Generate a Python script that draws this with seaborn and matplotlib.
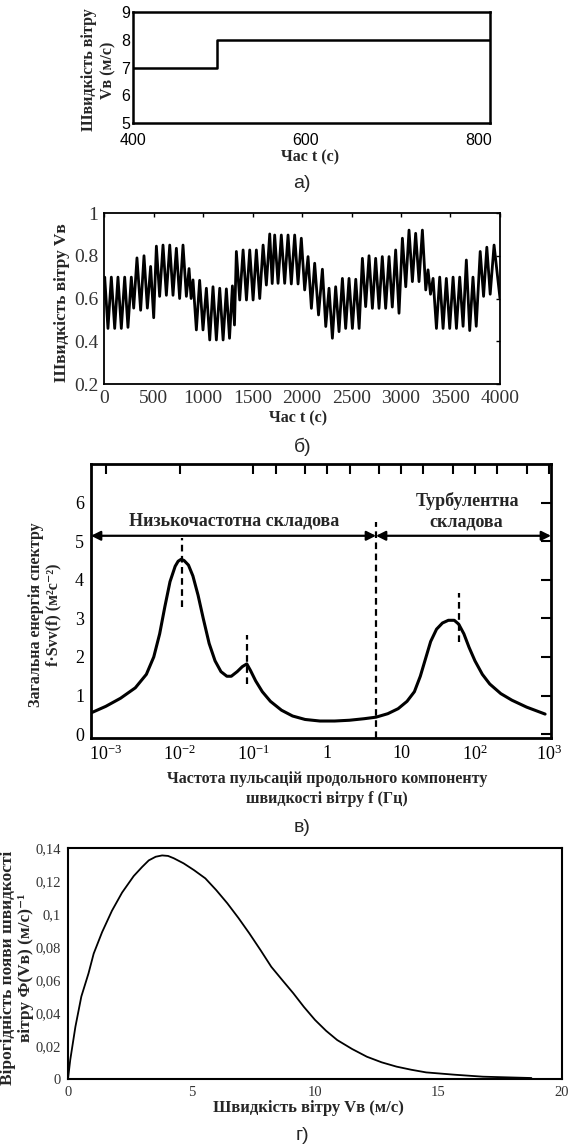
import numpy as np
import matplotlib
matplotlib.use("Agg")
import matplotlib.pyplot as plt
from matplotlib.ticker import NullFormatter
import seaborn as sns

sns.set_style("white")
plt.rcParams['font.family'] = ['Liberation Serif', 'DejaVu Serif']
plt.rcParams['mathtext.fontset'] = 'custom'
plt.rcParams['mathtext.rm'] = 'Liberation Serif'
plt.rcParams['mathtext.it'] = 'Liberation Serif:italic'
plt.rcParams['mathtext.bf'] = 'Liberation Serif:bold'

# а) ступінчаста зміна швидкості вітру
a_time = [400, 497, 813]
a_speed = [7, 8, 8]
a_xticks = [400, 600, 800]
a_yticks = [5, 6, 7, 8, 9]

# б) пульсації швидкості вітру (точки зламу)
b_time = [0, 7, 40, 74, 108, 141, 175, 209, 242, 276,
          300, 333, 370, 404, 438, 471, 502, 529, 562, 596,
          630, 664, 697, 731, 764, 798, 832, 859, 880, 899,
          933, 966, 1000, 1034, 1068, 1101, 1135, 1169, 1203, 1236,
          1268, 1297, 1318, 1337, 1371, 1405, 1439, 1472, 1506, 1539,
          1573, 1607, 1640, 1674, 1699, 1724, 1758, 1791, 1825, 1859,
          1892, 1926, 1960, 1993, 2027, 2061, 2095, 2128, 2167, 2206,
          2240, 2273, 2307, 2340, 2374, 2408, 2441, 2475, 2509, 2543,
          2577, 2610, 2643, 2677, 2711, 2744, 2778, 2811, 2845, 2879,
          2912, 2946, 2980, 3014, 3048, 3081, 3115, 3148, 3182, 3216,
          3250, 3273, 3298, 3324, 3358, 3391, 3425, 3458, 3492, 3526,
          3560, 3593, 3627, 3660, 3694, 3727, 3760, 3800, 3834, 3867,
          3901, 3940, 4000]
b_speed = [.60, .70, .46, .70, .46, .70, .46, .70, .465, .70,
           .555, .79, .545, .80, .555, .75, .51, .845, .61, .85,
           .615, .85, .615, .835, .60, .85, .61, .74, .60, .687,
           .453, .685, .453, .648, .406, .655, .406, .648, .406, .645,
           .414, .659, .476, .82, .593, .827, .593, .827, .593, .827,
           .60, .85, .663, .902, .67, .897, .671, .897, .671, .897,
           .668, .897, .668, .882, .64, .796, .554, .765, .523, .737,
           .469, .648, .414, .655, .445, .694, .46, .694, .46, .69,
           .46, .788, .562, .80, .554, .788, .554, .796, .554, .796,
           .56, .827, .531, .882, .655, .92, .679, .905, .679, .92,
           .64, .734, .62, .694, .46, .70, .46, .694, .46, .70,
           .46, .70, .47, .78, .45, .70, .47, .82, .61, .84,
           .62, .85, .60]
b_xticks = [0, 500, 1000, 1500, 2000, 2500, 3000, 3500, 4000]
b_yticks = [0.2, 0.4, 0.6, 0.8, 1.0]
b_ylabels = ['0.2', '0.4', '0.6', '0.8', '1']

# в) спектр енергії
c_log_f = [-3.2, -3.0, -2.8, -2.6, -2.45, -2.35, -2.27, -2.2, -2.13, -2.06,
           -2.02, -1.98, -1.94, -1.88, -1.82, -1.75, -1.68, -1.6, -1.52, -1.44,
           -1.36, -1.3, -1.22, -1.15, -1.09, -1.04, -0.97, -0.88, -0.77, -0.62,
           -0.47, -0.3, -0.1, 0.1, 0.3, 0.5, 0.66, 0.82, 0.96, 1.08,
           1.18, 1.26, 1.33, 1.4, 1.48, 1.56, 1.64, 1.72, 1.78, 1.85,
           1.92, 2.0, 2.1, 2.2, 2.35, 2.5, 2.7, 2.95]
c_energy = [0.55, 0.72, 0.93, 1.2, 1.55, 2.0, 2.6, 3.3, 3.95, 4.35,
            4.48, 4.53, 4.5, 4.38, 4.1, 3.6, 3.0, 2.35, 1.9, 1.62,
            1.5, 1.5, 1.62, 1.75, 1.82, 1.65, 1.38, 1.1, 0.85, 0.62,
            0.47, 0.38, 0.34, 0.34, 0.36, 0.4, 0.44, 0.53, 0.66, 0.85,
            1.1, 1.5, 1.95, 2.4, 2.72, 2.88, 2.95, 2.95, 2.85, 2.6,
            2.25, 1.9, 1.55, 1.3, 1.05, 0.88, 0.7, 0.52]
c_mark_logf = [-1.97, -1.09, 0.66, 1.79]
c_mark_lo = [3.3, 1.3, -0.1, 2.39]
c_mark_hi = [5.07, 2.56, 5.5, 3.65]
c_split_logf = 0.66
c_arrow_y = 5.14
c_xticks = [1e-3, 1e-2, 1e-1, 1, 10, 1e2, 1e3]
c_xlabels = ['$10^{-3}$', '$10^{-2}$', '$10^{-1}$', '1', '10', '$10^{2}$', '$10^{3}$']
c_xminor = [0.2, 0.5, 2, 5, 20, 50, 200, 500]
c_yticks = [0, 1, 2, 3, 4, 5, 6]

# г) розподіл швидкості вітру
d_speed = [0, 0.09, 0.30, 0.54, 0.83, 1.04, 1.38, 1.78, 2.19, 2.66,
           3.0, 3.27, 3.55, 3.81, 4.05, 4.28, 4.68, 5.1, 5.56, 6.0,
           6.45, 6.9, 7.34, 7.8, 8.23, 8.7, 9.12, 9.55, 10.0, 10.45,
           10.9, 11.5, 12.1, 12.7, 13.3, 13.9, 14.5, 15.65, 16.8, 18.76]
d_prob = [0, 0.0115, 0.0317, 0.050, 0.064, 0.076, 0.089, 0.102, 0.113, 0.123,
          0.1285, 0.1325, 0.1347, 0.1355, 0.1352, 0.1338, 0.1307, 0.1266, 0.1216, 0.1145,
          0.1065, 0.0976, 0.0883, 0.0780, 0.0680, 0.0595, 0.0520, 0.0437, 0.0358, 0.0292,
          0.0236, 0.0182, 0.0135, 0.0101, 0.0075, 0.0056, 0.0040, 0.0026, 0.0014, 0.0006]
d_xticks = [0, 5, 10, 15, 20]
d_yticks = [0, 0.02, 0.04, 0.06, 0.08, 0.10, 0.12, 0.14]
d_ylabels = ['0', '0,02', '0,04', '0,06', '0,08', '0,1', '0,12', '0,14']

W, H = 573, 1147
fig = plt.figure(figsize=(W / 100, H / 100), dpi=100)


def box(l, r, t, b):
    return [l / W, 1 - b / H, (r - l) / W, (b - t) / H]


def put(x, y, s, **kw):
    kw.setdefault('ha', 'center')
    kw.setdefault('va', 'center')
    fig.text(x / W, 1 - y / H, s, **kw)


def frame(ax, lw):
    for sp in ax.spines.values():
        sp.set_visible(True)
        sp.set_color('black')
        sp.set_linewidth(lw)


sans = ['Liberation Sans', 'DejaVu Sans']

# ---- а)
ax_a = fig.add_axes(box(133, 490, 12, 123))
sns.lineplot(x=a_time, y=a_speed, ax=ax_a, color='black', lw=1.8,
             drawstyle='steps-post', estimator=None)
ax_a.set_xlim(400, 813)
ax_a.set_ylim(5, 9)
ax_a.set_xticks(a_xticks, [str(v) for v in a_xticks], fontfamily=sans)
ax_a.set_yticks(a_yticks, [str(v) for v in a_yticks], fontfamily=sans)
ax_a.tick_params(direction='in', length=7, width=1.5, labelsize=11.5,
                 colors='black')
ax_a.tick_params(axis='x', pad=7)
ax_a.tick_params(axis='y', pad=2)
frame(ax_a, 1.8)
put(99, 70, 'Швидкість вітру\nVв (м/с)', rotation=90, fontsize=11.5,
    fontweight='bold', linespacing=1.3)
put(310, 157, 'Час t (с)', fontsize=11.5, fontweight='bold')
put(302, 183, 'а)', fontsize=14, family=sans)

# ---- б)
ax_b = fig.add_axes(box(104, 500, 213, 384))
sns.lineplot(x=b_time, y=b_speed, ax=ax_b, color='black', lw=2.0,
             estimator=None)
ax_b.set_xlim(0, 4000)
ax_b.set_ylim(0.2, 1.0)
ax_b.set_xticks(b_xticks, [str(v) for v in b_xticks])
ax_b.set_yticks(b_yticks, b_ylabels)
ax_b.tick_params(direction='in', length=3, width=1, labelsize=14, pad=4,
                 top=True, right=True, colors='black', labelcolor='#333333')
frame(ax_b, 1.3)
put(62, 303, 'Швидкість вітру Vв', rotation=90, fontsize=12.5,
    fontweight='bold')
put(298, 418, 'Час t (с)', fontsize=11.5, fontweight='bold')
put(303, 447, 'б)', fontsize=14, family=sans)

# ---- в)
ax_c = fig.add_axes(box(91, 551, 464, 738))
c_freq = [10 ** v for v in c_log_f]
sns.lineplot(x=c_freq, y=c_energy, ax=ax_c, color='black', lw=2.2,
             estimator=None)
ax_c.set_xscale('log')
ax_c.set_xlim(10 ** -3.2, 10 ** 3.03)
ax_c.set_ylim(-0.1, 7)
ax_c.vlines([10 ** v for v in c_mark_logf], c_mark_lo, c_mark_hi,
            colors='black', linestyles=(0, (3, 2)), lw=1.6)
split = 10 ** c_split_logf
arrow = dict(arrowstyle='<|-|>', color='black', lw=1.6,
             mutation_scale=14, shrinkA=0, shrinkB=0)
ax_c.annotate('', xy=(split, c_arrow_y), xytext=(ax_c.get_xlim()[0], c_arrow_y),
              arrowprops=arrow)
ax_c.annotate('', xy=(ax_c.get_xlim()[1], c_arrow_y), xytext=(split, c_arrow_y),
              arrowprops=arrow)
ax_c.text(10 ** -1.265, 5.53, 'Низькочастотна складова', ha='center',
          va='center', fontsize=13, fontweight='bold')
ax_c.text(10 ** 1.905, 6.03, 'Турбулентна', ha='center', va='center',
          fontsize=13, fontweight='bold')
ax_c.text(10 ** 1.88, 5.49, 'складова', ha='center', va='center',
          fontsize=13, fontweight='bold')
ax_c.set_xticks(c_xticks, c_xlabels)
ax_c.set_xticks(c_xminor, minor=True)
ax_c.xaxis.set_minor_formatter(NullFormatter())
ax_c.set_yticks(c_yticks, [str(v) for v in c_yticks])
ax_c.tick_params(which='both', direction='in', length=7, width=1.5,
                 labelsize=13, pad=5, top=True, right=True, colors='black')
frame(ax_c, 2.0)
put(45, 615, 'Загальна енергія спектру\nf·Svv(f) (м²с⁻²)', rotation=90,
    fontsize=11.5, fontweight='bold', linespacing=1.1)
put(327, 789, 'Частота пульсацій продольного компоненту\nшвидкості вітру f (Гц)',
    fontsize=11.5, fontweight='bold', linespacing=1.35)
put(302, 828, 'в)', fontsize=14, family=sans)

# ---- г)
ax_d = fig.add_axes(box(68, 562, 848, 1079))
sns.lineplot(x=d_speed, y=d_prob, ax=ax_d, color='black', lw=1.3,
             estimator=None)
ax_d.set_xlim(0, 20)
ax_d.set_ylim(0, 0.14)
ax_d.set_xticks(d_xticks, [str(v) for v in d_xticks])
ax_d.set_yticks(d_yticks, d_ylabels)
ax_d.tick_params(length=0, labelsize=10.5, pad=5, colors='#333333')
frame(ax_d, 1.5)
put(17, 968, 'Вірогідність появи швидкості\nвітру Ф(Vв) (м/с)⁻¹', rotation=90,
    fontsize=12.5, fontweight='bold', linespacing=1.1)
put(308, 1108, 'Швидкість вітру Vв (м/с)', fontsize=12, fontweight='bold')
put(302, 1135, 'г)', fontsize=14, family=sans)

fig.savefig('out.png', dpi=100)
